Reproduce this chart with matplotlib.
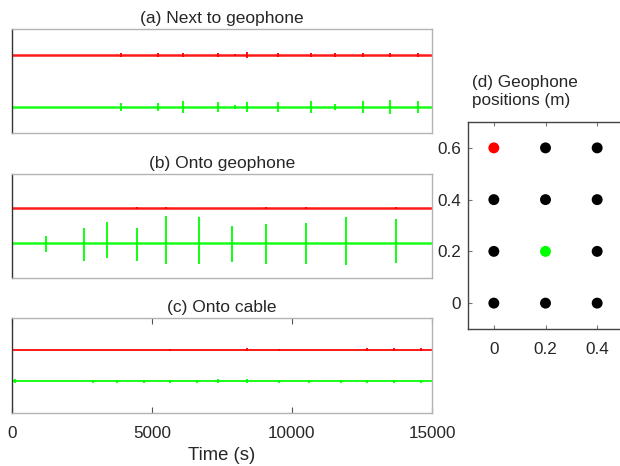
import matplotlib
matplotlib.use("Agg")
import matplotlib.pyplot as plt

plt.rcParams['font.family'] = ['Liberation Sans', 'DejaVu Sans']
TXT = '#262626'

# ---- time-series panels: baseline offsets and spike events (time, up, down) ----
t_max = 15000
titles = ['(a) Next to geophone', '(b) Onto geophone', '(c) Onto cable']

red_offset = [0.50, 0.35, 0.33]
green_offset = [-0.50, -0.33, -0.33]

# (a) Next to geophone
a_red_t = [3887, 5206, 6121, 7345, 7963, 8415, 9521, 10685, 11553, 12539, 13491, 14501]
a_red_up = [0.04, 0.03, 0.04, 0.03, 0.025, 0.055, 0.035, 0.04, 0.03, 0.045, 0.035, 0.035]
a_red_dn = [0.04, 0.03, 0.04, 0.03, 0.025, 0.055, 0.035, 0.04, 0.03, 0.045, 0.035, 0.035]
a_grn_t = [3887, 5206, 6121, 7345, 7963, 8415, 9521, 10685, 11553, 12539, 13491, 14501]
a_grn_up = [0.08, 0.07, 0.11, 0.10, 0.03, 0.10, 0.10, 0.11, 0.06, 0.11, 0.14, 0.11]
a_grn_dn = [0.08, 0.07, 0.11, 0.10, 0.03, 0.10, 0.10, 0.11, 0.06, 0.11, 0.14, 0.11]

# (b) Onto geophone
b_red_t = [4457, 5503, 9092, 10507, 13716]
b_red_up = [0.02, 0.02, 0.02, 0.02, 0.02]
b_red_dn = [0.02, 0.02, 0.02, 0.02, 0.02]
b_grn_t = [1236, 2567, 3388, 4457, 5503, 6668, 7845, 9092, 10507, 11933, 13716]
b_grn_up = [0.147, 0.295, 0.404, 0.288, 0.513, 0.494, 0.321, 0.378, 0.391, 0.506, 0.474]
b_grn_dn = [0.173, 0.346, 0.288, 0.340, 0.397, 0.397, 0.353, 0.397, 0.397, 0.423, 0.385]

# (c) Onto cable
c_red_t = [5646, 8415, 9544, 12682, 13657, 14620]
c_red_up = [0.02, 0.035, 0.025, 0.03, 0.03, 0.03]
c_red_dn = [0.02, 0.035, 0.025, 0.03, 0.03, 0.03]
c_grn_t = [100, 2912, 3769, 4718, 5646, 6597, 7369, 8415, 9544, 10614, 11755, 12682, 13657, 14620]
c_grn_up = [0.04, 0.03, 0.03, 0.035, 0.035, 0.03, 0.04, 0.04, 0.03, 0.035, 0.03, 0.03, 0.03, 0.03]
c_grn_dn = [0.04, 0.03, 0.03, 0.035, 0.035, 0.03, 0.04, 0.04, 0.03, 0.035, 0.03, 0.03, 0.03, 0.03]

panels = [
    (a_red_t, a_red_up, a_red_dn, a_grn_t, a_grn_up, a_grn_dn),
    (b_red_t, b_red_up, b_red_dn, b_grn_t, b_grn_up, b_grn_dn),
    (c_red_t, c_red_up, c_red_dn, c_grn_t, c_grn_up, c_grn_dn),
]
base_lw = [1.8, 1.8, 1.4]

x_ticks = [0, 5000, 10000, 15000]

# ---- geophone grid ----
geo_x = [0.0, 0.2, 0.4, 0.0, 0.2, 0.4, 0.0, 0.2, 0.4, 0.0, 0.2, 0.4]
geo_y = [0.6, 0.6, 0.6, 0.4, 0.4, 0.4, 0.2, 0.2, 0.2, 0.0, 0.0, 0.0]
geo_c = ['#ff0000', 'k', 'k', 'k', 'k', 'k', 'k', '#00ff00', 'k', 'k', 'k', 'k']
geo_ticks_x = [0, 0.2, 0.4]
geo_ticks_y = [0, 0.2, 0.4, 0.6]

W, H = 620, 466
fig = plt.figure(figsize=(W / 100, H / 100), dpi=100)


def rect(l, t, r, b):
    return [l / W, 1 - b / H, (r - l) / W, (b - t) / H]


boxes = [rect(11.7, 29, 432, 133), rect(11.7, 174, 432, 278), rect(11.7, 318, 432, 413)]

for i, (box, data) in enumerate(zip(boxes, panels)):
    rt, ru, rd, gt, gu, gd = data
    ax = fig.add_axes(box)
    ro, go = red_offset[i], green_offset[i]
    ax.plot([0, t_max], [ro, ro], color='#ff0000', lw=base_lw[i], solid_capstyle='butt', alpha=0.9)
    ax.plot([0, t_max], [go, go], color='#00ff00', lw=base_lw[i], solid_capstyle='butt', alpha=0.9)
    ax.vlines(rt, [ro - d for d in rd], [ro + u for u in ru], color='#ff0000', lw=1.3)
    ax.vlines(gt, [go - d for d in gd], [go + u for u in gu], color='#00ff00', lw=1.3)
    ax.set_xlim(0, t_max)
    ax.set_ylim(-1, 1)
    ax.set_yticks([])
    ax.set_title(titles[i], fontsize=12.5, color=TXT, pad=4)
    for s in ['top', 'right', 'bottom']:
        ax.spines[s].set_color('#b3b3b3')
        ax.spines[s].set_linewidth(1.0)
    ax.spines['left'].set_color('#333333')
    ax.spines['left'].set_linewidth(1.0)
    if i < 2:
        ax.set_xticks([])
    else:
        ax.set_xticks(x_ticks)
        ax.tick_params(axis='x', direction='in', length=4, width=0.8, color='#555555',
                       top=True, labelsize=12.3, labelcolor=TXT, pad=9)
        ax.set_xlabel('Time (s)', fontsize=13.3, color=TXT, labelpad=5)

# geophone position panel (extends slightly past the right figure edge)
axd = fig.add_axes(rect(468, 122, 623, 329))
axd.scatter(geo_x, geo_y, s=62, c=geo_c, edgecolors='none', zorder=3)
axd.set_xlim(-0.1, 0.5)
axd.set_ylim(-0.1, 0.7)
axd.set_xticks(geo_ticks_x)
axd.set_xticklabels(['0', '0.2', '0.4'])
axd.set_yticks(geo_ticks_y)
axd.set_yticklabels(['0', '0.2', '0.4', '0.6'])
axd.tick_params(direction='in', length=3, width=0.8, color='#777777', top=True, right=False,
                labelsize=12.3, labelcolor=TXT)
axd.tick_params(axis='x', pad=9)
axd.tick_params(axis='y', pad=5)
for s in ['left', 'bottom', 'top']:
    axd.spines[s].set_color('#444444')
    axd.spines[s].set_linewidth(1.0)
axd.spines['right'].set_visible(False)
fig.text(472 / W, 1 - 92 / H, '(d) Geophone\npositions (m)', fontsize=12.3, color=TXT,
         ha='left', va='center', linespacing=1.25)

fig.savefig('out.png', dpi=100)
